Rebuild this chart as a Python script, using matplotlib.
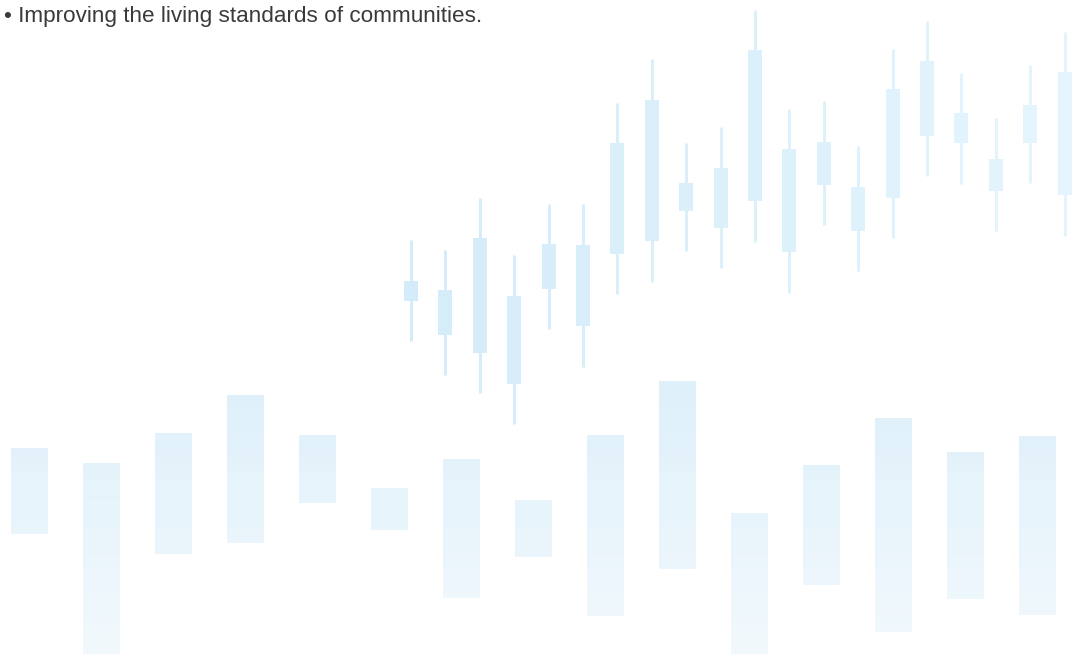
import numpy as np
import matplotlib
matplotlib.use("Agg")
import matplotlib.pyplot as plt
from matplotlib.colors import LinearSegmentedColormap

# ────────────────────────────────────────────────────────────────
# DATA
# ────────────────────────────────────────────────────────────────
CAPTION = "\u2022 Improving the living standards of communities."

# candlesticks (all drawn in the same colour)
candle_high = [414, 404, 456, 399, 450, 450, 551, 595, 511, 527,
               644, 545, 553, 508, 605, 633, 581, 536, 589, 622]
candle_low = [313, 279, 261, 230, 325, 287, 360, 372, 403, 386,
              412, 361, 429, 383, 416, 478, 470, 423, 471, 418]
body_top = [373, 364, 416, 358, 410, 409, 511, 554, 471, 486,
            604, 505, 512, 467, 565, 593, 541, 495, 549, 582]
body_bottom = [353, 319, 301, 270, 365, 328, 400, 413, 443, 426,
               453, 402, 469, 423, 456, 518, 511, 463, 511, 459]

# floating bars
bar_top = [206, 191, 221, 259, 219, 166, 195, 154, 219, 273, 141, 189, 236, 202, 218]
bar_bottom = [120, -10, 100, 111, 151, 124, 56, 97, 38, 85, -10, 69, 22, 55, 39]

# ────────────────────────────────────────────────────────────────
# FIGURE
# ────────────────────────────────────────────────────────────────
W, H = 1074, 654
fig = plt.figure(figsize=(W / 100, H / 100), dpi=100)
ax = fig.add_axes([0, 0, 1, 1])
ax.axis("off")

# candles: colour fades slightly from left to right
candle_cmap = LinearSegmentedColormap.from_list("candle", ["#d4ecf9", "#e4f4fc"])
cx0, cstep = 411, 34.4
n_c = len(candle_high)
for i in range(n_c):
    x = cx0 + cstep * i
    col = candle_cmap(i / (n_c - 1))
    ax.vlines(x, candle_low[i], candle_high[i], color=col, linewidth=3 * 0.72, zorder=2)
    ax.bar(x, body_top[i] - body_bottom[i], bottom=body_bottom[i], width=14,
           color=col, linewidth=0, zorder=3)

# bars: vertical gradient, shared across the whole picture
bar_cmap = LinearSegmentedColormap.from_list("bars", ["#f2f9fd", "#def0fa"])
bx0, bstep, bw = 11, 72, 37
for i in range(len(bar_top)):
    left = bx0 + bstep * i
    grad = np.linspace(bar_bottom[i], bar_top[i], 80)[:, None]
    ax.imshow(grad, extent=(left, left + bw, bar_bottom[i], bar_top[i]),
              cmap=bar_cmap, vmin=0, vmax=280, origin="lower",
              aspect="auto", interpolation="bilinear", zorder=1)

ax.set_xlim(0, W)
ax.set_ylim(0, H)

ax.text(4, H - 22, CAPTION, fontsize=16.2, color="#3a3a3a",
        family=["Liberation Sans", "DejaVu Sans"], va="baseline", ha="left", zorder=5)

plt.savefig("out.png", dpi=100)
plt.close()
